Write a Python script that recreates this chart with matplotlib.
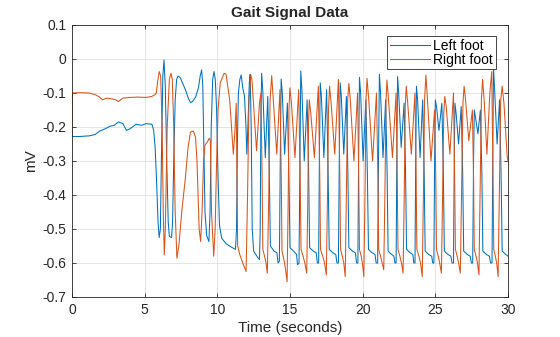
import matplotlib
matplotlib.use("Agg")
import matplotlib.pyplot as plt

plt.rcParams['font.family'] = ['Liberation Sans', 'DejaVu Sans']

title = "Gait Signal Data"
x_label = "Time (seconds)"
y_label = "mV"
series_names = ["Left foot", "Right foot"]
x_ticks = [0, 5, 10, 15, 20, 25, 30]
y_ticks = [0.1, 0, -0.1, -0.2, -0.3, -0.4, -0.5, -0.6, -0.7]
y_tick_labels = ["0.1", "0", "-0.1", "-0.2", "-0.3", "-0.4", "-0.5", "-0.6", "-0.7"]

left_foot = [
    (0.0, -0.228), (0.5, -0.228), (1.2, -0.226), (1.6, -0.222), (1.9, -0.212), (2.3, -0.205),
    (2.6, -0.198), (2.9, -0.195), (3.2, -0.185), (3.5, -0.19), (3.75, -0.21), (4.0, -0.205),
    (4.4, -0.192), (4.8, -0.195), (5.1, -0.19), (5.5, -0.192), (5.62, -0.21), (5.72, -0.26),
    (5.82, -0.36), (5.92, -0.48), (6.0, -0.525), (6.08, -0.5), (6.15, -0.3), (6.25, -0.05),
    (6.33, -0.003), (6.42, -0.08), (6.52, -0.3), (6.62, -0.48), (6.7, -0.522), (6.85, -0.525),
    (6.92, -0.48), (7.0, -0.3), (7.1, -0.12), (7.2, -0.06), (7.3, -0.05), (7.45, -0.055),
    (7.6, -0.07), (7.8, -0.09), (8.0, -0.115), (8.15, -0.128), (8.3, -0.125), (8.5, -0.112),
    (8.7, -0.085), (8.82, -0.05), (8.92, -0.032), (9.0, -0.08), (9.07, -0.25), (9.15, -0.45),
    (9.27, -0.52), (9.42, -0.537), (9.5, -0.45), (9.58, -0.2), (9.68, -0.06), (9.77, -0.037),
    (9.86, -0.06), (9.95, -0.15), (10.05, -0.35), (10.15, -0.49), (10.3, -0.527), (10.6, -0.543),
    (10.95, -0.553), (11.25, -0.56), (11.32, -0.5), (11.38, -0.25), (11.45, -0.1), (11.55, -0.06),
    (11.64, -0.047), (11.75, -0.085), (11.87, -0.11), (11.97, -0.2), (12.03, -0.28), (12.1, -0.2),
    (12.2, -0.07), (12.26, -0.045), (12.33, -0.2), (12.4, -0.5), (12.5, -0.565), (12.8, -0.585),
    (12.9, -0.59), (12.95, -0.5), (13.0, -0.15),
    (13.05, -0.042), (13.13, -0.095), (13.3, -0.29), (13.47, -0.11), (13.57, -0.32), (13.65, -0.55),
    (13.9, -0.565), (14.1, -0.57), (14.18, -0.6), (14.27, -0.595), (14.33, -0.3),
    (14.39, -0.059), (14.47, -0.1), (14.63, -0.28), (14.82, -0.13), (14.92, -0.33), (15.0, -0.555),
    (15.25, -0.565), (15.45, -0.575), (15.52, -0.605), (15.62, -0.6), (15.68, -0.3),
    (15.74, -0.035), (15.82, -0.09), (15.98, -0.3), (16.18, -0.12), (16.28, -0.33), (16.35, -0.555),
    (16.6, -0.565), (16.8, -0.57), (16.88, -0.6), (16.97, -0.6), (17.02, -0.3),
    (17.08, -0.07), (17.16, -0.11), (17.33, -0.29), (17.52, -0.09), (17.62, -0.33), (17.7, -0.56),
    (17.95, -0.57), (18.15, -0.575), (18.23, -0.6), (18.33, -0.6), (18.39, -0.3),
    (18.45, -0.07), (18.53, -0.11), (18.7, -0.28), (18.88, -0.11), (18.98, -0.33), (19.05, -0.555),
    (19.3, -0.565), (19.5, -0.57), (19.58, -0.6), (19.67, -0.6), (19.72, -0.3),
    (19.78, -0.054), (19.86, -0.1), (20.03, -0.3), (20.22, -0.12), (20.32, -0.33), (20.4, -0.56),
    (20.65, -0.57), (20.85, -0.575), (20.93, -0.6), (21.03, -0.6), (21.09, -0.3),
    (21.15, -0.045), (21.23, -0.1), (21.4, -0.29), (21.58, -0.12), (21.68, -0.33), (21.75, -0.565),
    (22.0, -0.575), (22.15, -0.58), (22.22, -0.6), (22.3, -0.6), (22.35, -0.3),
    (22.4, -0.052), (22.48, -0.1), (22.65, -0.26), (22.85, -0.13), (22.95, -0.33), (23.02, -0.56),
    (23.27, -0.57), (23.45, -0.575), (23.52, -0.6), (23.6, -0.6), (23.65, -0.3),
    (23.7, -0.08), (23.78, -0.12), (23.95, -0.29), (24.13, -0.12), (24.23, -0.33), (24.3, -0.565),
    (24.55, -0.575), (24.75, -0.58), (24.82, -0.6), (24.9, -0.6), (24.95, -0.3),
    (25.0, -0.12), (25.08, -0.14), (25.25, -0.21), (25.45, -0.13), (25.55, -0.33), (25.62, -0.565),
    (25.87, -0.575), (26.07, -0.58), (26.15, -0.6), (26.25, -0.6), (26.3, -0.3),
    (26.35, -0.13), (26.43, -0.16), (26.6, -0.25), (26.78, -0.14), (26.88, -0.33), (26.95, -0.565),
    (27.2, -0.575), (27.4, -0.58), (27.48, -0.6), (27.57, -0.6), (27.63, -0.3),
    (27.68, -0.15), (27.76, -0.17), (27.93, -0.22), (28.1, -0.15), (28.2, -0.33), (28.27, -0.565),
    (28.52, -0.575), (28.72, -0.58), (28.8, -0.6), (28.9, -0.6), (28.95, -0.3),
    (29.0, -0.025), (29.08, -0.09), (29.25, -0.25), (29.42, -0.12), (29.52, -0.33), (29.6, -0.565),
    (29.85, -0.575), (30.0, -0.58),
]

right_foot = [
    (0.0, -0.225), (0.03, -0.1), (0.5, -0.099), (1.2, -0.1), (1.6, -0.105), (1.9, -0.112),
    (2.1, -0.12), (2.4, -0.115), (2.8, -0.118), (3.0, -0.12), (3.2, -0.125), (3.5, -0.115),
    (4.0, -0.113), (4.5, -0.112), (5.1, -0.113), (5.5, -0.11), (5.7, -0.105), (5.8, -0.1),
    (5.88, -0.07), (6.0, -0.037), (6.1, -0.05), (6.2, -0.2), (6.28, -0.45), (6.35, -0.576),
    (6.42, -0.5), (6.55, -0.2), (6.7, -0.06), (6.81, -0.042), (6.9, -0.06), (7.0, -0.2),
    (7.1, -0.45), (7.22, -0.586), (7.35, -0.55), (7.55, -0.45), (7.8, -0.35), (7.98, -0.262),
    (8.15, -0.215), (8.35, -0.212), (8.5, -0.23), (8.6, -0.3), (8.75, -0.5), (8.85, -0.537),
    (8.95, -0.45), (9.05, -0.3), (9.15, -0.253), (9.3, -0.245), (9.45, -0.233), (9.52, -0.24),
    (9.6, -0.45), (9.75, -0.58), (9.85, -0.5), (9.95, -0.3), (10.05, -0.15), (10.2, -0.07),
    (10.47, -0.042), (10.6, -0.045), (10.85, -0.12), (11.1, -0.28), (11.2, -0.22), (11.3, -0.13),
    (11.4, -0.55), (11.55, -0.576), (11.75, -0.6),
    (11.98, -0.625), (12.08, -0.4), (12.18, -0.12), (12.3, -0.047), (12.38, -0.06), (12.5, -0.14),
    (12.7, -0.27), (12.9, -0.13), (13.0, -0.1), (13.08, -0.35), (13.13, -0.56), (13.25, -0.58),
    (13.35, -0.6),
    (13.44, -0.63), (13.54, -0.4), (13.63, -0.12), (13.74, -0.049), (13.85, -0.12), (14.09, -0.28),
    (14.31, -0.09), (14.4, -0.35), (14.45, -0.565), (14.58, -0.59), (14.7, -0.62),
    (14.8, -0.655), (14.88, -0.4), (14.93, -0.15), (14.99, -0.085), (15.1, -0.13), (15.34, -0.29),
    (15.6, -0.09), (15.7, -0.35), (15.76, -0.56), (15.9, -0.58), (16.02, -0.6),
    (16.15, -0.63), (16.23, -0.4), (16.28, -0.18), (16.33, -0.12), (16.43, -0.16), (16.68, -0.29),
    (16.95, -0.08), (17.05, -0.35), (17.1, -0.56), (17.25, -0.58), (17.38, -0.6),
    (17.5, -0.635), (17.58, -0.4), (17.65, -0.15), (17.72, -0.08), (17.83, -0.13), (18.08, -0.28),
    (18.33, -0.06), (18.43, -0.35), (18.48, -0.56), (18.6, -0.58), (18.7, -0.6),
    (18.8, -0.64), (18.88, -0.4), (18.97, -0.12), (19.05, -0.072), (19.15, -0.12), (19.4, -0.3),
    (19.65, -0.1), (19.73, -0.35), (19.78, -0.56), (19.9, -0.58), (19.98, -0.6),
    (20.08, -0.64), (20.16, -0.4), (20.23, -0.12), (20.3, -0.057), (20.42, -0.12), (20.68, -0.3),
    (20.95, -0.1), (21.05, -0.35), (21.1, -0.56), (21.23, -0.58), (21.34, -0.6),
    (21.45, -0.62), (21.53, -0.4), (21.6, -0.13), (21.67, -0.062), (21.78, -0.12), (22.05, -0.29),
    (22.3, -0.1), (22.38, -0.35), (22.43, -0.56), (22.56, -0.58), (22.67, -0.6),
    (22.78, -0.63), (22.86, -0.4), (22.93, -0.14), (23.0, -0.08), (23.1, -0.13), (23.35, -0.28),
    (23.6, -0.1), (23.68, -0.35), (23.73, -0.56), (23.87, -0.58), (23.98, -0.6),
    (24.1, -0.64), (24.18, -0.4), (24.26, -0.12), (24.35, -0.047), (24.46, -0.12), (24.7, -0.3),
    (24.95, -0.15), (25.03, -0.35), (25.08, -0.56), (25.2, -0.58), (25.3, -0.6),
    (25.42, -0.63), (25.5, -0.4), (25.58, -0.16), (25.65, -0.11), (25.75, -0.14), (26.0, -0.28),
    (26.25, -0.1), (26.33, -0.35), (26.38, -0.56), (26.5, -0.58), (26.6, -0.6),
    (26.72, -0.63), (26.8, -0.4), (26.9, -0.13), (26.98, -0.08), (27.08, -0.12), (27.3, -0.24),
    (27.55, -0.15), (27.63, -0.35), (27.68, -0.56), (27.8, -0.58), (27.9, -0.6),
    (28.0, -0.635), (28.08, -0.4), (28.17, -0.12), (28.25, -0.06), (28.36, -0.12), (28.55, -0.28),
    (28.75, -0.1), (28.88, -0.037), (28.97, -0.35), (29.02, -0.56), (29.13, -0.58), (29.22, -0.6),
    (29.32, -0.64), (29.4, -0.4), (29.5, -0.12), (29.6, -0.08), (29.72, -0.13), (29.95, -0.29),
    (30.0, -0.3),
]

left_t = [p[0] for p in left_foot]
left_v = [p[1] for p in left_foot]
right_t = [p[0] for p in right_foot]
right_v = [p[1] for p in right_foot]

axis_color = "#262626"
fig = plt.figure(figsize=(5.6, 3.37), dpi=100)
ax = fig.add_axes([72 / 560, 40 / 337, 436 / 560, 272 / 337])

ax.plot(left_t, left_v, color="#0072BD", lw=0.75, label=series_names[0])
ax.plot(right_t, right_v, color="#D95319", lw=0.75, label=series_names[1])

ax.set_xlim(0, 30)
ax.set_ylim(-0.7, 0.1)
ax.set_xticks(x_ticks)
ax.set_yticks(y_ticks)
ax.set_yticklabels(y_tick_labels)
ax.grid(True, color="#DFDFDF", lw=0.6)
ax.set_axisbelow(True)
ax.tick_params(direction="in", top=True, right=True, length=3, width=0.6,
               colors=axis_color, labelsize=10, pad=4)
for s in ax.spines.values():
    s.set_color(axis_color)
    s.set_linewidth(0.6)

ax.set_title(title, fontsize=11, fontweight="bold", color="#262626", pad=6)
ax.set_xlabel(x_label, fontsize=11, color=axis_color, labelpad=3)
ax.set_ylabel(y_label, fontsize=11, color=axis_color, labelpad=3)

leg = ax.legend(loc="upper right", bbox_to_anchor=(0.9725, 0.96), fontsize=10,
                frameon=True, fancybox=False, framealpha=1, edgecolor=axis_color,
                borderpad=0.2, labelspacing=0.0, handlelength=2.9, handletextpad=0.25,
                borderaxespad=0)
leg.get_frame().set_linewidth(0.6)

fig.savefig("out.png", dpi=100)
